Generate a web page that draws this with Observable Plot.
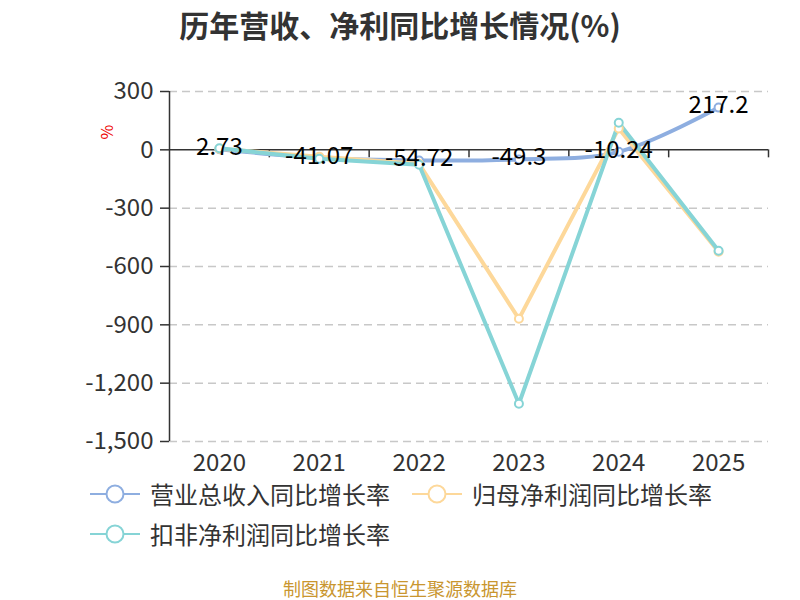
<!DOCTYPE html>
<html>
<head>
<meta charset="utf-8">
<script src="https://cdn.jsdelivr.net/npm/d3@7"></script>
<script src="https://cdn.jsdelivr.net/npm/@observablehq/plot@0.6"></script>
<style>
  body { margin: 0; background: #fff; font-family: "Noto Sans CJK SC", sans-serif; }
  #wrap { position: relative; width: 800px; height: 600px; overflow: hidden; }
  #chart { position: absolute; left: 0; top: 0; }
  .title { position: absolute; left: 0; top: 0; width: 800px; height: 48px; line-height: 48px; text-align: center; font-size: 30px; font-weight: bold; color: #333; }
  .unit { position: absolute; left: 99px; top: 122px; font-size: 16px; color: #e00; transform: rotate(-90deg); transform-origin: center; line-height: 20px; }
  .leg { position: absolute; height: 24px; display: flex; align-items: center; font-size: 24px; line-height: 24px; color: #333; white-space: nowrap; }
  .leg svg { margin-right: 10px; }
  .footer { position: absolute; left: 0; top: 578px; width: 800px; text-align: center; font-size: 18px; line-height: 20px; color: #c9962f; }
</style>
</head>
<body>
<div id="wrap">
  <div id="chart"></div>
</div>
<script>
const years = [2020, 2021, 2022, 2023, 2024, 2025];
const revenueGrowth = [2.73, -41.07, -54.72, -49.3, -10.24, 217.2];
const netProfitGrowth = [5, -35, -72, -869, 110, -524];
const deductedProfitGrowth = [8, -46, -77, -1306, 139, -519];
const seriesNames = ["营业总收入同比增长率", "归母净利润同比增长率", "扣非净利润同比增长率"];
const seriesColors = ["#8eaee0", "#fdd89a", "#86d4d6"];
const yTicks = [300, 0, -300, -600, -900, -1200, -1500];
const titleText = "历年营收、净利同比增长情况(%)";
const unitText = "%";
const footerText = "制图数据来自恒生聚源数据库";

const seriesValues = [revenueGrowth, netProfitGrowth, deductedProfitGrowth];
const rows = seriesValues.map((vals, s) => years.map((yr, i) => ({year: yr, v: vals[i], s})));

const marginTop = 91, marginBottom = 159, marginLeft = 169, marginRight = 32;
const H = 600;
const yMin = -1500, yMax = 300;
const tickLen = 8 * (yMax - yMin) / (H - marginTop - marginBottom);
const boundaries = years.map(y => y + 0.5);
const fmt = d => d.toLocaleString("en-US");

const marks = [
  Plot.gridY(yTicks.filter(d => d !== 0), {stroke: "#c8c8c8", strokeOpacity: 1, strokeWidth: 1.5, strokeDasharray: "8,5"}),
  Plot.ruleY([0], {stroke: "#333", strokeWidth: 1.5}),
  Plot.ruleX(boundaries, {y1: 0, y2: -tickLen, stroke: "#333", strokeWidth: 1.5}),
  Plot.ruleX([years[0] - 0.5], {stroke: "#333", strokeWidth: 1.5}),
  Plot.axisY({ticks: yTicks, tickFormat: fmt, tickSize: 9, tickPadding: 7, fontSize: 24, stroke: "#333", strokeWidth: 1.5, label: null}),
  Plot.axisX({ticks: years, tickFormat: d => String(d), tickSize: 0, tickPadding: 12, fontSize: 24, label: null})
];
rows.forEach((data, s) => {
  marks.push(Plot.line(data, {x: "year", y: "v", stroke: seriesColors[s], strokeWidth: 4, curve: s === 0 ? "catmull-rom" : "linear"}));
});
rows.forEach((data, s) => {
  marks.push(Plot.dot(data, {x: "year", y: "v", r: 4, fill: "white", stroke: seriesColors[s], strokeWidth: 2}));
});
marks.push(Plot.text(rows[0], {x: "year", y: "v", text: d => String(d.v), fill: "#000", fontSize: 24, dy: -2, textAnchor: "middle", lineAnchor: "middle"}));

const chart = Plot.plot({
  width: 800, height: H,
  marginTop, marginBottom, marginLeft, marginRight,
  style: {fontFamily: "'Noto Sans CJK SC', sans-serif", fontSize: "24px", color: "#333", background: "transparent", overflow: "visible"},
  x: {domain: [years[0] - 0.5, years[years.length - 1] + 0.5], axis: null},
  y: {domain: [yMin, yMax], axis: null},
  marks
});
document.getElementById("chart").appendChild(chart);

const wrap = document.getElementById("wrap");
const t = document.createElement("div"); t.className = "title"; t.textContent = titleText; wrap.appendChild(t);
const u = document.createElement("div"); u.className = "unit"; u.textContent = unitText; wrap.appendChild(u);
const f = document.createElement("div"); f.className = "footer"; f.textContent = footerText; wrap.appendChild(f);

const legPos = [[90, 482], [412, 482], [90, 522]];
seriesNames.forEach((name, i) => {
  const el = document.createElement("div");
  el.className = "leg";
  el.style.left = legPos[i][0] + "px";
  el.style.top = legPos[i][1] + "px";
  el.innerHTML = `<svg width="50" height="22"><line x1="0" x2="50" y1="11" y2="11" stroke="${seriesColors[i]}" stroke-width="2"/><circle cx="25" cy="11" r="8.5" fill="white" stroke="${seriesColors[i]}" stroke-width="2"/></svg><span>${name}</span>`;
  wrap.appendChild(el);
});
</script>
</body>
</html>
